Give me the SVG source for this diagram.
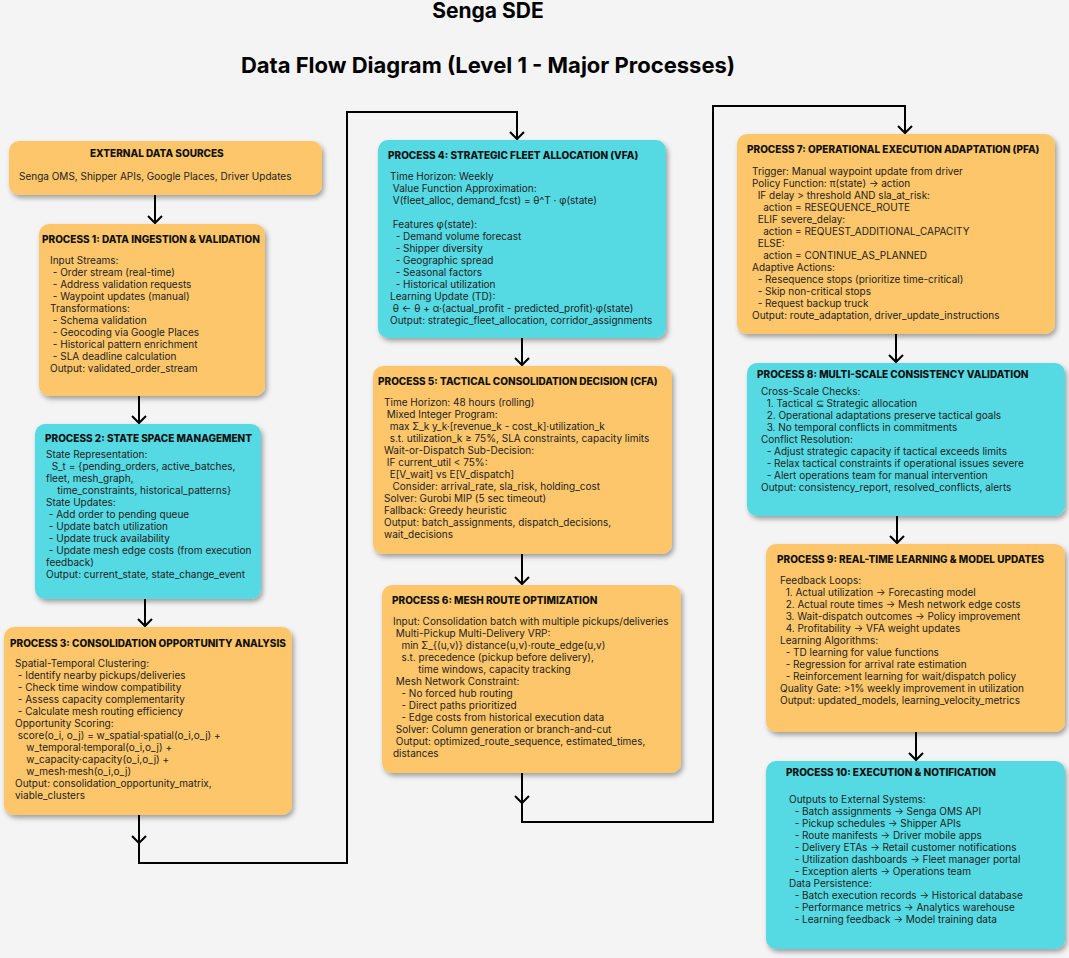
<svg xmlns="http://www.w3.org/2000/svg" width="1069" height="958" viewBox="0 0 1069 958">
<defs>
<filter id="sh" x="-10%" y="-10%" width="125%" height="125%">
<feDropShadow dx="2" dy="3" stdDeviation="2.5" flood-color="#000" flood-opacity="0.35"/>
</filter>
<marker id="ah" markerWidth="20" markerHeight="20" refX="10" refY="10" orient="auto" markerUnits="userSpaceOnUse">
<path d="M3,3 L10,10 L3,17" fill="none" stroke="#000" stroke-width="2"/>
</marker>
<style>
.bg{fill:#f4f4f4}
.o{fill:#fec66b;filter:url(#sh)}
.c{fill:#55d9e2;filter:url(#sh)}
.t{font-family:Inter,"Liberation Sans",sans-serif;font-weight:800;font-size:10px;fill:#111}
.b{font-family:Inter,"Liberation Sans",sans-serif;font-size:10px;fill:#222;white-space:pre}
.h{font-family:Inter,"Liberation Sans",sans-serif;font-weight:700;fill:#000}
.e{fill:none;stroke:#000;stroke-width:2}
</style>
</defs>
<rect class="bg" x="0" y="0" width="1069" height="958"/>
<g id="title">
<text class="h" x="488" y="18" font-size="21" text-anchor="middle">Senga SDE</text>
<text class="h" x="488" y="73" font-size="22" text-anchor="middle">Data Flow Diagram (Level 1 - Major Processes)</text>
</g>
<g id="connectors">
<path class="e" d="M155,195 L155,223" marker-end="url(#ah)"/>
<path class="e" d="M139,396 L139,423" marker-end="url(#ah)"/>
<path class="e" d="M145,599 L145,626" marker-end="url(#ah)"/>
<path class="e" d="M139,815 L139,843" marker-end="url(#ah)"/>
<path class="e" d="M139,843 L139,863 L347,863 L347,112 L517,112 L517,139" marker-end="url(#ah)"/>
<path class="e" d="M522,338 L522,365" marker-end="url(#ah)"/>
<path class="e" d="M522,554 L522,584" marker-end="url(#ah)"/>
<path class="e" d="M522,773 L522,803" marker-end="url(#ah)"/>
<path class="e" d="M522,803 L522,822 L713,822 L713,106 L905,106 L905,133" marker-end="url(#ah)"/>
<path class="e" d="M896,334 L896,362" marker-end="url(#ah)"/>
<path class="e" d="M897,516 L897,543" marker-end="url(#ah)"/>
<path class="e" d="M916,732 L916,760" marker-end="url(#ah)"/>
</g>
<g id="ext">
<rect class="o" x="9" y="141" width="313" height="54" rx="10"/>
<text class="t" x="90" y="157">EXTERNAL DATA SOURCES</text>
<text class="b" x="19" y="180">Senga OMS, Shipper APIs, Google Places, Driver Updates</text>
</g>
<g id="p1">
<rect class="o" x="39" y="224" width="226" height="172" rx="10"/>
<text class="t" x="42" y="243">PROCESS 1: DATA INGESTION &amp; VALIDATION</text>
<text class="b" x="50" y="264" xml:space="preserve"><tspan x="50" y="264">Input Streams:</tspan><tspan x="50" y="276"> - Order stream (real-time)</tspan><tspan x="50" y="288"> - Address validation requests</tspan><tspan x="50" y="300"> - Waypoint updates (manual)</tspan><tspan x="50" y="312">Transformations:</tspan><tspan x="50" y="324"> - Schema validation</tspan><tspan x="50" y="336"> - Geocoding via Google Places</tspan><tspan x="50" y="348"> - Historical pattern enrichment</tspan><tspan x="50" y="360"> - SLA deadline calculation</tspan><tspan x="50" y="372">Output: validated_order_stream</tspan></text>
</g>
<g id="p2">
<rect class="c" x="35" y="424" width="226" height="175" rx="10"/>
<text class="t" x="45" y="442">PROCESS 2: STATE SPACE MANAGEMENT</text>
<text class="b" xml:space="preserve"><tspan x="46" y="458">State Representation:</tspan><tspan x="46" y="470">  S_t = {pending_orders, active_batches,</tspan><tspan x="46" y="482">fleet, mesh_graph,</tspan><tspan x="46" y="494">    time_constraints, historical_patterns}</tspan><tspan x="46" y="506">State Updates:</tspan><tspan x="46" y="518"> - Add order to pending queue</tspan><tspan x="46" y="530"> - Update batch utilization</tspan><tspan x="46" y="542"> - Update truck availability</tspan><tspan x="46" y="554"> - Update mesh edge costs (from execution</tspan><tspan x="46" y="566">feedback)</tspan><tspan x="46" y="578">Output: current_state, state_change_event</tspan></text>
</g>
<g id="p3">
<rect class="o" x="4" y="627" width="288" height="188" rx="10"/>
<text class="t" x="10" y="647">PROCESS 3: CONSOLIDATION OPPORTUNITY ANALYSIS</text>
<text class="b" xml:space="preserve"><tspan x="15" y="667">Spatial-Temporal Clustering:</tspan><tspan x="15" y="679"> - Identify nearby pickups/deliveries</tspan><tspan x="15" y="691"> - Check time window compatibility</tspan><tspan x="15" y="703"> - Assess capacity complementarity</tspan><tspan x="15" y="715"> - Calculate mesh routing efficiency</tspan><tspan x="15" y="727">Opportunity Scoring:</tspan><tspan x="15" y="739"> score(o_i, o_j) = w_spatial·spatial(o_i,o_j) +</tspan><tspan x="15" y="751">    w_temporal·temporal(o_i,o_j) +</tspan><tspan x="15" y="763">    w_capacity·capacity(o_i,o_j) +</tspan><tspan x="15" y="775">    w_mesh·mesh(o_i,o_j)</tspan><tspan x="15" y="787">Output: consolidation_opportunity_matrix,</tspan><tspan x="15" y="799">viable_clusters</tspan></text>
</g>
<g id="p4">
<rect class="c" x="378" y="140" width="288" height="198" rx="10"/>
<text class="t" x="388" y="159">PROCESS 4: STRATEGIC FLEET ALLOCATION (VFA)</text>
<text class="b" xml:space="preserve"><tspan x="390" y="180">Time Horizon: Weekly</tspan><tspan x="390" y="192"> Value Function Approximation:</tspan><tspan x="390" y="204"> V(fleet_alloc, demand_fcst) = θ^T · φ(state)</tspan><tspan x="390" y="228"> Features φ(state):</tspan><tspan x="390" y="240">  - Demand volume forecast</tspan><tspan x="390" y="252">  - Shipper diversity</tspan><tspan x="390" y="264">  - Geographic spread</tspan><tspan x="390" y="276">  - Seasonal factors</tspan><tspan x="390" y="288">  - Historical utilization</tspan><tspan x="390" y="300">Learning Update (TD):</tspan><tspan x="390" y="312"> θ ← θ + α·(actual_profit - predicted_profit)·φ(state)</tspan><tspan x="390" y="324">Output: strategic_fleet_allocation, corridor_assignments</tspan></text>
</g>
<g id="p5">
<rect class="o" x="373" y="366" width="299" height="188" rx="10"/>
<text class="t" x="378" y="385">PROCESS 5: TACTICAL CONSOLIDATION DECISION (CFA)</text>
<text class="b" xml:space="preserve"><tspan x="384" y="406">Time Horizon: 48 hours (rolling)</tspan><tspan x="384" y="418"> Mixed Integer Program:</tspan><tspan x="384" y="430">  max Σ_k y_k·[revenue_k - cost_k]·utilization_k</tspan><tspan x="384" y="442">  s.t. utilization_k ≥ 75%, SLA constraints, capacity limits</tspan><tspan x="384" y="454">Wait-or-Dispatch Sub-Decision:</tspan><tspan x="384" y="466"> IF current_util &lt; 75%:</tspan><tspan x="384" y="478">  E[V_wait] vs E[V_dispatch]</tspan><tspan x="384" y="490">   Consider: arrival_rate, sla_risk, holding_cost</tspan><tspan x="384" y="502">Solver: Gurobi MIP (5 sec timeout)</tspan><tspan x="384" y="514">Fallback: Greedy heuristic</tspan><tspan x="384" y="526">Output: batch_assignments, dispatch_decisions,</tspan><tspan x="384" y="538">wait_decisions</tspan></text>
</g>
<g id="p6">
<rect class="o" x="382" y="585" width="299" height="188" rx="10"/>
<text class="t" x="392" y="604">PROCESS 6: MESH ROUTE OPTIMIZATION</text>
<text class="b" xml:space="preserve"><tspan x="393" y="625">Input: Consolidation batch with multiple pickups/deliveries</tspan><tspan x="393" y="637"> Multi-Pickup Multi-Delivery VRP:</tspan><tspan x="393" y="649">   min Σ_{(u,v)} distance(u,v)·route_edge(u,v)</tspan><tspan x="393" y="661">   s.t. precedence (pickup before delivery),</tspan><tspan x="393" y="673">         time windows, capacity tracking</tspan><tspan x="393" y="685"> Mesh Network Constraint:</tspan><tspan x="393" y="697">   - No forced hub routing</tspan><tspan x="393" y="709">   - Direct paths prioritized</tspan><tspan x="393" y="721">   - Edge costs from historical execution data</tspan><tspan x="393" y="733"> Solver: Column generation or branch-and-cut</tspan><tspan x="393" y="745"> Output: optimized_route_sequence, estimated_times,</tspan><tspan x="393" y="757">distances</tspan></text>
</g>
<g id="p7">
<rect class="o" x="737" y="134" width="318" height="200" rx="10"/>
<text class="t" x="747" y="153">PROCESS 7: OPERATIONAL EXECUTION ADAPTATION (PFA)</text>
<text class="b" xml:space="preserve"><tspan x="752" y="175">Trigger: Manual waypoint update from driver</tspan><tspan x="752" y="187">Policy Function: π(state) → action</tspan><tspan x="752" y="199">  IF delay &gt; threshold AND sla_at_risk:</tspan><tspan x="752" y="211">    action = RESEQUENCE_ROUTE</tspan><tspan x="752" y="223">  ELIF severe_delay:</tspan><tspan x="752" y="235">    action = REQUEST_ADDITIONAL_CAPACITY</tspan><tspan x="752" y="247">  ELSE:</tspan><tspan x="752" y="259">    action = CONTINUE_AS_PLANNED</tspan><tspan x="752" y="271">Adaptive Actions:</tspan><tspan x="752" y="283">  - Resequence stops (prioritize time-critical)</tspan><tspan x="752" y="295">  - Skip non-critical stops</tspan><tspan x="752" y="307">  - Request backup truck</tspan><tspan x="752" y="319">Output: route_adaptation, driver_update_instructions</tspan></text>
</g>
<g id="p8">
<rect class="c" x="747" y="363" width="318" height="153" rx="10"/>
<text class="t" x="757" y="378">PROCESS 8: MULTI-SCALE CONSISTENCY VALIDATION</text>
<text class="b" xml:space="preserve"><tspan x="761" y="395">Cross-Scale Checks:</tspan><tspan x="761" y="407">  1. Tactical ⊆ Strategic allocation</tspan><tspan x="761" y="419">  2. Operational adaptations preserve tactical goals</tspan><tspan x="761" y="431">  3. No temporal conflicts in commitments</tspan><tspan x="761" y="443">Conflict Resolution:</tspan><tspan x="761" y="455">  - Adjust strategic capacity if tactical exceeds limits</tspan><tspan x="761" y="467">  - Relax tactical constraints if operational issues severe</tspan><tspan x="761" y="479">  - Alert operations team for manual intervention</tspan><tspan x="761" y="491">Output: consistency_report, resolved_conflicts, alerts</tspan></text>
</g>
<g id="p9">
<rect class="o" x="766" y="544" width="299" height="188" rx="10"/>
<text class="t" x="777" y="563">PROCESS 9: REAL-TIME LEARNING &amp; MODEL UPDATES</text>
<text class="b" xml:space="preserve"><tspan x="780" y="584">Feedback Loops:</tspan><tspan x="780" y="596">  1. Actual utilization → Forecasting model</tspan><tspan x="780" y="608">  2. Actual route times → Mesh network edge costs</tspan><tspan x="780" y="620">  3. Wait-dispatch outcomes → Policy improvement</tspan><tspan x="780" y="632">  4. Profitability → VFA weight updates</tspan><tspan x="780" y="644">Learning Algorithms:</tspan><tspan x="780" y="656">  - TD learning for value functions</tspan><tspan x="780" y="668">  - Regression for arrival rate estimation</tspan><tspan x="780" y="680">  - Reinforcement learning for wait/dispatch policy</tspan><tspan x="780" y="692">Quality Gate: &gt;1% weekly improvement in utilization</tspan><tspan x="780" y="704">Output: updated_models, learning_velocity_metrics</tspan></text>
</g>
<g id="p10">
<rect class="c" x="766" y="761" width="299" height="188" rx="10"/>
<text class="t" x="786" y="776">PROCESS 10: EXECUTION &amp; NOTIFICATION</text>
<text class="b" xml:space="preserve"><tspan x="789" y="803">Outputs to External Systems:</tspan><tspan x="789" y="815">  - Batch assignments → Senga OMS API</tspan><tspan x="789" y="827">  - Pickup schedules → Shipper APIs</tspan><tspan x="789" y="839">  - Route manifests → Driver mobile apps</tspan><tspan x="789" y="851">  - Delivery ETAs → Retail customer notifications</tspan><tspan x="789" y="863">  - Utilization dashboards → Fleet manager portal</tspan><tspan x="789" y="875">  - Exception alerts → Operations team</tspan><tspan x="789" y="887">Data Persistence:</tspan><tspan x="789" y="899">  - Batch execution records → Historical database</tspan><tspan x="789" y="911">  - Performance metrics → Analytics warehouse</tspan><tspan x="789" y="923">  - Learning feedback → Model training data</tspan></text>
</g>
</svg>
